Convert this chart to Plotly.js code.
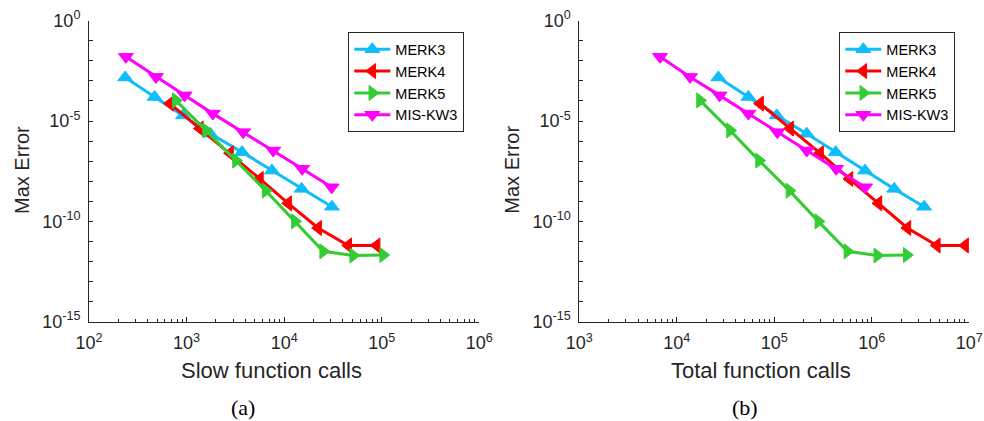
<!DOCTYPE html>
<html>
<head>
<meta charset="utf-8">
<script src="https://cdn.plot.ly/plotly-3.0.1.min.js"></script>
<style>html,body{margin:0;padding:0;background:#fff;}#chart{width:984px;height:421px;}</style>
</head>
<body>
<div id="chart"></div>
<script>
// ---- Data ----
const seriesNames = ['MERK3', 'MERK4', 'MERK5', 'MIS-KW3'];

// Max error (same for both panels)
const errMERK3 = [1.48e-3, 1.58e-4, 1.9e-5, 2.34e-6, 2.82e-7, 3.39e-8, 4.17e-9, 5.37e-10];
const errMERK4 = [7.4e-5, 4.2e-6, 2.5e-7, 1.3e-8, 7.9e-10, 4.7e-11, 6.3e-12, 6.3e-12];
const errMERK5 = [1.07e-4, 3.4e-6, 1.07e-7, 3.4e-9, 1.0e-10, 3.2e-12, 2.0e-12, 2.1e-12];
const errMISKW3 = [1.58e-2, 1.58e-3, 1.9e-4, 2.34e-5, 2.8e-6, 3.4e-7, 4.2e-8, 5.0e-9];

// Panel (a): slow function calls
const slowMERK3 = [235, 470, 920, 1750, 3700, 7500, 15100, 30900];
const slowMERK4 = [676, 1370, 2790, 5650, 11000, 22300, 45400, 88700];
const slowMERK5 = [776, 1585, 3210, 6460, 12900, 25100, 51000, 103500];
const slowMISKW3 = [239, 485, 955, 1860, 3800, 7730, 15300, 30700];

// Panel (b): total function calls
const totMERK3 = [26700, 54200, 105900, 215300, 426600, 851000, 1698000, 3436000];
const totMERK4 = [71450, 145200, 295100, 590200, 1169500, 2317000, 4645000, 9057000];
const totMERK5 = [17300, 35160, 69820, 142900, 283100, 562300, 1140000, 2286000];
const totMISKW3 = [6730, 13680, 27480, 54200, 107600, 215300, 430500, 853100];

// Tick labels
const yTickVals = [1e-15,1e-14,1e-13,1e-12,1e-11,1e-10,1e-9,1e-8,1e-7,1e-6,1e-5,1e-4,1e-3,1e-2,1e-1,1];
const yTickText = ['10<sup>-15</sup>','','','','','10<sup>-10</sup>','','','','','10<sup>-5</sup>','','','','','10<sup>0</sup>'];
const xTickValsA = [1e2,1e3,1e4,1e5,1e6];
const xTickTextA = ['10<sup>2</sup>','10<sup>3</sup>','10<sup>4</sup>','10<sup>5</sup>','10<sup>6</sup>'];
const xTickValsB = [1e3,1e4,1e5,1e6,1e7];
const xTickTextB = ['10<sup>3</sup>','10<sup>4</sup>','10<sup>5</sup>','10<sup>6</sup>','10<sup>7</sup>'];

// ---- Styling ----
const colors = ['#0FBDFA', '#FF0000', '#33CC33', '#FF00FF'];
const symbols = ['triangle-up', 'triangle-left', 'triangle-right', 'triangle-down'];
const FONT = 'Liberation Sans, Arial, Helvetica, sans-serif';
const SERIF = 'Liberation Serif, Times New Roman, serif';
const AX = '#262626';

const errs = [errMERK3, errMERK4, errMERK5, errMISKW3];
const slows = [slowMERK3, slowMERK4, slowMERK5, slowMISKW3];
const tots = [totMERK3, totMERK4, totMERK5, totMISKW3];

function minorVals(lo, hi) {
  const v = [];
  for (let e = lo; e < hi; e++) for (let d = 2; d <= 9; d++) v.push(d * Math.pow(10, e));
  return v;
}

function mkTrace(i, xs, xa, ya, lg) {
  return {
    x: xs, y: errs[i], name: seriesNames[i], type: 'scatter', mode: 'lines+markers',
    xaxis: xa, yaxis: ya, legend: lg,
    line: {color: colors[i], width: 3},
    marker: {symbol: symbols[i], size: 13, color: colors[i], line: {color: colors[i], width: 1}}
  };
}
const traces = [];
for (let i = 0; i < 4; i++) traces.push(mkTrace(i, slows[i], 'x', 'y', 'legend'));
for (let i = 0; i < 4; i++) traces.push(mkTrace(i, tots[i], 'x2', 'y2', 'legend2'));

const W = 984, H = 421;
const yDom = [1 - 321.7 / H, 1 - 20.7 / H];

function xAxis(dom, lo, hi, tv, tt, anchor) {
  return {
    type: 'log', range: [lo, hi], domain: dom, anchor: anchor,
    showline: true, linecolor: AX, linewidth: 1, mirror: false,
    ticks: 'inside', ticklen: 5, tickwidth: 1, tickcolor: AX,
    tickmode: 'array', tickvals: tv, ticktext: tt,
    tickfont: {family: FONT, size: 18, color: AX},
    ticklabelstandoff: 5,
    minor: {tickmode: 'array', tickvals: minorVals(lo, hi), ticks: 'inside', ticklen: 3, tickcolor: AX, tickwidth: 1},
    showgrid: false, zeroline: false, fixedrange: true
  };
}
function yAxis(anchor) {
  return {
    type: 'log', range: [-15, 0], domain: yDom, anchor: anchor,
    showline: true, linecolor: AX, linewidth: 1, mirror: false,
    ticks: 'inside', ticklen: 4, tickwidth: 1, tickcolor: AX,
    tickmode: 'array', tickvals: yTickVals, ticktext: yTickText,
    tickfont: {family: FONT, size: 18, color: AX},
    ticklabelstandoff: 4,
    showgrid: false, zeroline: false, fixedrange: true
  };
}

function legendCfg(xpx) {
  return {
    x: xpx / W, y: 1 - 32.3 / H, xanchor: 'left', yanchor: 'top',
    bordercolor: AX, borderwidth: 1, bgcolor: '#ffffff',
    font: {family: FONT, size: 14.5, color: '#000'},
    tracegroupgap: 0, itemwidth: 36
  };
}

function ann(text, xpx, ypx, font, angle) {
  return {text: text, x: xpx / W, y: 1 - ypx / H, xref: 'paper', yref: 'paper',
    xanchor: 'center', yanchor: 'middle', textangle: angle || 0, showarrow: false, font: font};
}

const layout = {
  width: W, height: H,
  margin: {l: 0, r: 0, t: 0, b: 0},
  paper_bgcolor: '#fff', plot_bgcolor: '#fff',
  showlegend: true,
  xaxis: xAxis([89 / W, 479.3 / W], 2, 6, xTickValsA, xTickTextA, 'y'),
  yaxis: yAxis('x'),
  xaxis2: xAxis([579.3 / W, 969.3 / W], 3, 7, xTickValsB, xTickTextB, 'y2'),
  yaxis2: yAxis('x2'),
  legend: legendCfg(348.3),
  legend2: legendCfg(839.3),
  annotations: [
    ann('Max Error', 22, 170, {family: FONT, size: 20, color: AX}, -90),
    ann('Max Error', 511.7, 170, {family: FONT, size: 20, color: AX}, -90),
    ann('Slow function calls', 271, 370, {family: FONT, size: 22, color: AX}),
    ann('Total function calls', 761, 370, {family: FONT, size: 22, color: AX}),
    ann('(a)', 243, 407, {family: SERIF, size: 22, color: '#000'}),
    ann('(b)', 745, 407, {family: SERIF, size: 22, color: '#000'})
  ]
};

Plotly.newPlot('chart', traces, layout, {staticPlot: true, displayModeBar: false});
</script>
</body>
</html>
